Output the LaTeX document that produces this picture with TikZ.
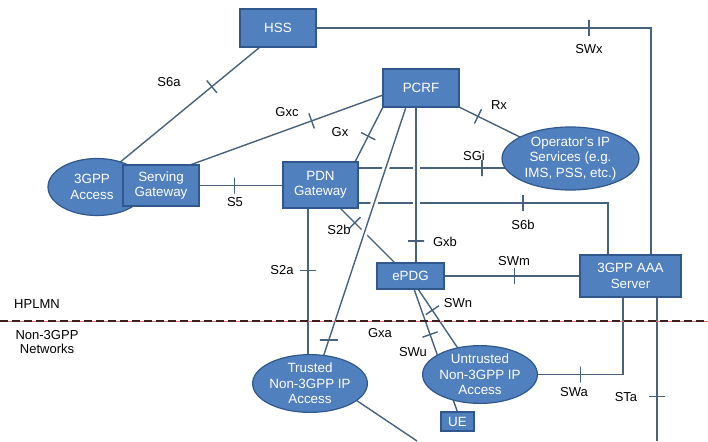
\documentclass[tikz,border=0pt]{standalone}
\usepackage{fontspec}
\setmainfont{Liberation Sans}
\usetikzlibrary{calc,shapes.geometric}

\definecolor{boxfill}{RGB}{80,128,190}
\definecolor{boxedge}{RGB}{48,88,140}
\definecolor{wirec}{RGB}{72,98,124}
\definecolor{seppink}{RGB}{215,120,120}
\definecolor{sepdark}{RGB}{60,30,30}

\newcommand\nodefont{\fontsize{13.4pt}{15.5pt}\selectfont}
\newcommand\labelfont{\fontsize{13pt}{14pt}\selectfont}

\pgfdeclarelayer{background}
\pgfsetlayers{background,main}

\tikzset{
  netbox/.style={rectangle, draw=boxedge, fill=boxfill, line width=1.2pt,
    text=white, inner sep=0pt, outer sep=0pt, font=\nodefont, align=center},
  netoval/.style={netbox, ellipse},
  wire/.style={draw=wirec, line width=1.4pt},
  crossing/.style={preaction={draw=white, line width=7pt}},
  tickmark/.style={pos=#1, sloped, draw=wirec, line width=1.4pt, rectangle,
    inner sep=0pt, outer sep=0pt, minimum width=0pt, minimum height=16pt},
  flattick/.style={pos=#1, draw=wirec, line width=1.4pt, rectangle,
    inner sep=0pt, outer sep=0pt, minimum width=18pt, minimum height=0pt},
  iface/.style={font=\labelfont, text=black, inner sep=0pt, align=center}
}

\begin{document}
\begin{tikzpicture}[x=1pt, y=-1pt]
\useasboundingbox (0,0) rectangle (708,441);

% ---------- network elements ----------
\node[netoval, minimum width=98pt, minimum height=57pt,
  label={[xshift=-5pt, text=white, font=\nodefont, align=center]center:3GPP\\Access}]
  (acc3) at (97,187) {};
\node[netbox, minimum width=76pt, minimum height=41pt] (sgw) at (161,185.5) {Serving\\Gateway};
\node[netbox, minimum width=76pt, minimum height=38pt] (hss) at (278,28) {HSS};
\node[netbox, minimum width=76pt, minimum height=38pt] (pcrf) at (421,88) {PCRF};
\node[netbox, minimum width=75pt, minimum height=46pt] (pdn) at (320.5,185) {PDN\\Gateway};
\node[netoval, minimum width=137pt, minimum height=63pt] (ops) at (570.5,158.5)
  {Operator's IP\\Services (e.g.\\IMS, PSS, etc.)};
\node[netbox, minimum width=67pt, minimum height=26pt] (epdg) at (410.5,276) {ePDG};
\node[netbox, minimum width=101pt, minimum height=42pt] (aaa) at (630.5,276) {3GPP AAA\\Server};
\node[netoval, minimum width=90pt, minimum height=57pt] (trusted) at (310,383.5)
  {Trusted\\Non-3GPP IP\\Access};
\node[netoval, minimum width=94pt, minimum height=57pt] (untrusted) at (480,374.5)
  {Untrusted\\Non-3GPP IP\\Access};
\node[netbox, minimum width=33pt, minimum height=19pt] (ue) at (457.5,421.5) {UE};

% ---------- bends and free ends ----------
\coordinate (swxbend) at (651,28);
\coordinate (s6bbend) at (608,203);
\coordinate (swabend) at (623,374.5);
\coordinate (stabottom) at (657,441);
\coordinate (trustout) at (417,441);
\coordinate (sepL) at (0,321);
\coordinate (sepR) at (708,321);

\begin{pgfonlayer}{background}
\fill[white] (0,0) rectangle (708,441);

% S6a
\draw[wire] (acc3.47) -- node[tickmark=0.655]{} ($(hss.south west)+(20,0)$);
% SWx
\draw[wire] (hss.east) -- node[tickmark=0.815]{} (swxbend) -- (swxbend |- aaa.north);
% Gxc
\draw[wire] ($(sgw.north west)+(67,0)$) -- node[tickmark=0.63]{} ($(pcrf.north west)+(0,26)$);
% Gx
\draw[wire] ($(pdn.north east)+(-3,0)$) -- node[tickmark=0.47]{} (pcrf.south west);
% S5
\draw[wire] (sgw.east) -- node[tickmark=0.42]{} (pdn.west |- sgw.east);
% Rx
\draw[wire] (pcrf.south east) -- node[tickmark=0.31]{} (ops.157);
% SGi
\draw[wire] ($(pdn.north east)+(0,6)$) -- node[tickmark=0.584]{} ($(ops.center)+(0,9.5)$);
% S6b
\draw[wire] ($(pdn.south east)+(0,-5)$) -- node[tickmark=0.66]{} (s6bbend) -- (s6bbend |- aaa.north);
% S2b
\draw[wire] ($(pdn.south west)+(57,0)$) -- node[tickmark=0.27]{} ($(epdg.north west)+(18,0)$);
% S2a
\draw[wire] ($(pdn.south west)+(25,0)$) -- node[flattick=0.40, minimum width=16pt]{} ($(trusted.center)+(-2,-20)$);
% Gxb
\draw[wire, crossing] ($(pcrf.south west)+(33,0)$) -- node[tickmark=0.86]{} ($(epdg.north west)+(39,0)$);
% Gxa
\draw[wire, crossing] ($(pcrf.south west)+(23,0)$) -- node[flattick=0.908]{} ($(trusted.center)+(11,-20)$);
% trusted access towards the UE side
\draw[wire] (trusted.-20) -- (trustout);
% SWm
\draw[wire] (epdg.east) -- node[tickmark=0.52]{} (aaa.west);
% SWn
\draw[wire] ($(epdg.south west)+(41,0)$) -- node[tickmark=0.36]{} (untrusted.130);
% SWu
\draw[wire] ($(epdg.south west)+(37,0)$) -- node[tickmark=0.37]{} (ue.north);
% SWa
\draw[wire] (untrusted.east) -- node[tickmark=0.5]{} (swabend) -- (swabend |- aaa.south);
% STa
\draw[wire] ($(aaa.south west)+(77,0)$) -- node[tickmark=0.69]{} (stabottom);

% HPLMN / non-3GPP boundary
\draw[seppink, line width=0.7pt] (sepL) -- (sepR);
\draw[sepdark, line width=1.3pt, dash pattern=on 8pt off 4pt] (sepL) -- (sepR);
\end{pgfonlayer}

% ---------- interface labels ----------
\node[iface] (lS6a) at (169,82) {S6a};
\node[iface] (lSWx) at (589,49) {SWx};
\node[iface] (lGxc) at (287,112) {Gxc};
\node[iface] (lGx) at (340,132) {Gx};
\node[iface] (lS5) at (235,202) {S5};
\node[iface] (lRx) at (499,105) {Rx};
\node[iface] (lSGi) at (474,156) {SGi};
\node[iface] (lS6b) at (523,225) {S6b};
\node[iface] (lGxb) at (445,242) {Gxb};
\node[iface] (lS2b) at (339,230) {S2b};
\node[iface] (lS2a) at (282,270) {S2a};
\node[iface] (lGxa) at (380,333) {Gxa};
\node[iface] (lSWm) at (514,261) {SWm};
\node[iface] (lSWn) at (458,303) {SWn};
\node[iface] (lSWu) at (413,352) {SWu};
\node[iface] (lSWa) at (574,392) {SWa};
\node[iface] (lSTa) at (626,397) {STa};

% ---------- domain labels ----------
\node[iface] (hplmn) at (37,304) {HPLMN};
\node[iface] (non3gpp) at (47,342) {Non-3GPP\\Networks};
\end{tikzpicture}
\end{document}
